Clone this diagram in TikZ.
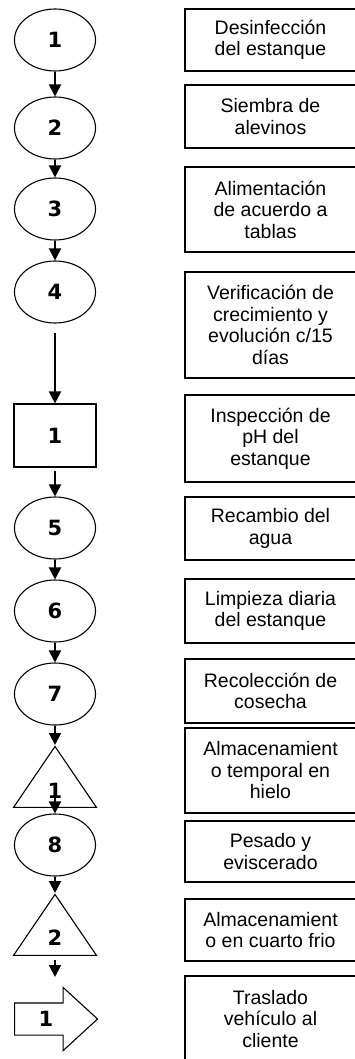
\documentclass[tikz,border=0pt]{standalone}
\usepackage{fontspec}
\setmainfont{Liberation Sans}
\newfontfamily\numfont{DejaVu Sans}
\usetikzlibrary{arrows.meta}
\usetikzlibrary{shapes.geometric}
\usetikzlibrary{shapes.arrows}
\tikzset{
  paso/.style={draw, line width=1.3pt, minimum width=171, inner sep=0, align=center,
    font=\fontsize{19.5}{21.5}\selectfont},
  num/.style={inner sep=0, font=\numfont\bfseries\fontsize{21}{21}\selectfont},
  oper/.style={draw, ellipse, line width=1.1pt, minimum width=81, minimum height=62, inner sep=0, num},
  insp/.style={draw, rectangle, line width=1.2pt, minimum width=82, minimum height=63, inner sep=0, num},
  alm/.style={draw, isosceles triangle, shape border rotate=90, isosceles triangle stretches,
    minimum width=83, minimum height=61, inner sep=0, line width=1.1pt, anchor=apex},
  trans/.style={draw, single arrow, single arrow head extend=15.5, single arrow tip angle=85,
    minimum height=83, inner xsep=0, inner ysep=15.5, line width=1.1pt, anchor=tail},
  flecha/.style={->, line width=2pt}
}

\begin{document}
\begin{tikzpicture}[x=1pt, y=-1pt, >={Triangle[length=12pt,width=12pt]}]

  \path [use as bounding box] (0,0) rectangle (355,1059);
  \clip (0,0) rectangle (355,1059);

  % operaciones:
  \node [oper] (e1) at (55,40) {1};
  \node [oper] (e2) at (55,128) {2};
  \node [oper] (e3) at (55,209) {3};
  \node [oper] (e4) at (55,292) {4};
  \node [insp] (r1) at (55,435.5) {1};
  \node [oper] (e5) at (55,528) {5};
  \node [oper] (e6) at (55,611) {6};
  \node [oper] (e7) at (55,694) {7};
  \node [oper] (e8) at (55,845) {8};

  % almacenamientos:
  \node [alm] (t1) at (55,745) {};
  \node [num] (t1n) at (55,791) {1};
  \node [alm] (t2) at (55,893) {};
  \node [num] (t2n) at (55,938) {2};

  % transporte:
  \node [trans] (f1) at (14,1019) {};
  \node [num] (f1n) at (46,1019) {1};
  \coordinate (f1in) at (55,977);

  % descripciones:
  \node [paso, minimum height=62] (b1) at (270.5,40) {Desinfección\\del estanque};
  \node [paso, minimum height=63] (b2) at (270.5,116.5) {Siembra de\\alevinos};
  \node [paso, minimum height=85] (b3) at (270.5,209.5) {Alimentación\\de acuerdo a\\tablas};
  \node [paso, minimum height=106] (b4) at (270.5,325) {Verificación de\\crecimiento y\\evolución c/15\\días};
  \node [paso, minimum height=87] (b5) at (270.5,438.5) {Inspección de\\pH del\\estanque};
  \node [paso, minimum height=63] (b6) at (270.5,528.5) {Recambio del\\agua};
  \node [paso, minimum height=64] (b7) at (270.5,611) {Limpieza diaria\\del estanque};
  \node [paso, minimum height=64] (b8) at (270.5,691) {Recolección de\\cosecha};
  \node [paso, minimum height=85] (b9) at (270.5,770.5) {Almacenamient\\o temporal en\\hielo};
  \node [paso, minimum height=61] (b10) at (270.5,851.5) {Pesado y\\eviscerado};
  \node [paso, minimum height=62] (b11) at (270.5,930) {Almacenamient\\o en cuarto frio};
  \node [paso, minimum height=86] (b12) at (270.5,1019) {Traslado\\vehículo al\\cliente};

  % flujo:
  \foreach \a/\b in {e1/e2, e2/e3, e3/e4, e5/e6, e6/e7, e8/t2}
    \draw [flecha] (\a.south) -- (\b.north);
  \draw [flecha, shorten <=9] (e4.south) -- (r1.north);
  \draw [flecha, shorten <=3] (r1.south) -- (e5.north);
  \draw [flecha] (e7.south) -- (t1.apex);
  \draw [flecha] (t1n.center) -- (e8.north);
  \draw [flecha, shorten <=4] (t2.south) -- (f1in);

\end{tikzpicture}
\end{document}
